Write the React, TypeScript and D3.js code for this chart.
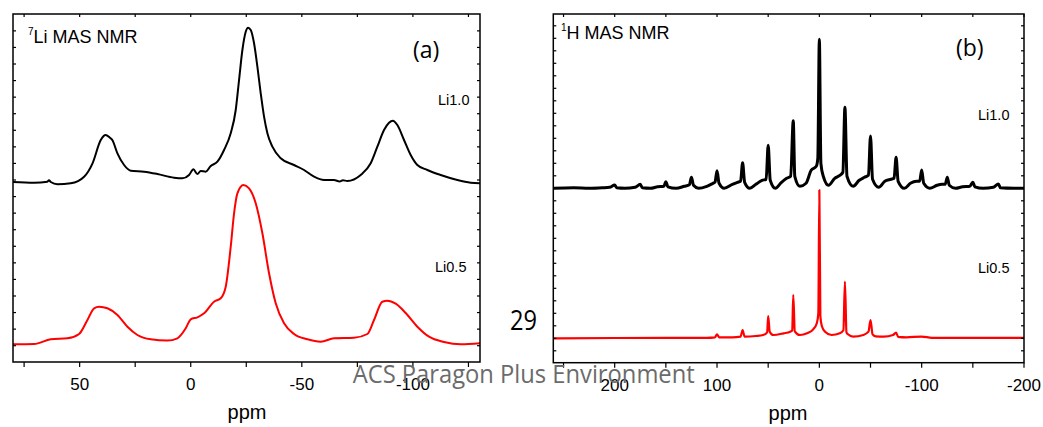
import React from "react";
import * as d3 from "d3";

// ---------- Data (ppm, intensity above own baseline) ----------
const liXTicksMajor = [50, 0, -50, -100];
const liXTicksMinor = [75, 25, -25, -75, -125];
const hXTicksMajor = [200, 100, 0, -100, -200];
const hXTicksMinor = [250, 150, 50, -50, -150];

const li7_Li10: [number, number][] = [
  [80, 0], [70.5, -0.7], [64.5, 0.3], [63.8, 1.8], [63, 0], [60, -2.3], [54, -1.3], [48, 5.3],
  [44.2, 18.7], [40.5, 42], [38.3, 47], [36.5, 44.5], [35.3, 42], [33, 28.7], [30, 17], [27, 11.3],
  [21, 10.3], [15, 8], [7.5, 4.3], [3.75, 3.7], [0.75, 7], [-1.2, 12.7], [-3, 8], [-4.5, 11],
  [-6.75, 10.3], [-9, 16], [-12, 20.3], [-15, 32], [-18, 48.7], [-20.25, 72], [-21.75, 102],
  [-23.25, 132], [-24.75, 150.3], [-25.8, 154.3], [-27, 152], [-28.5, 138.7], [-30, 115.3],
  [-31.5, 88.7], [-33, 65.3], [-34.5, 48.7], [-36.75, 35.3], [-40.5, 23.7], [-46.5, 17],
  [-51, 12], [-55.5, 5.3], [-60, 2], [-64.5, 2], [-67, 0.5], [-68.5, 1.8], [-70.5, 1], [-76.5, 7],
  [-81, 18.7], [-84, 35.3], [-87, 52], [-89.25, 59.3], [-91, 61.3], [-93, 57], [-96, 42],
  [-99, 27], [-102, 17], [-106.5, 12], [-112.5, 7], [-120, 2], [-126, -0.7], [-130.5, -1.3],
];

const li7_Li05: [number, number][] = [
  [80, 0], [70.5, 0.3], [63, 5], [55.5, 6], [50.25, 10.3], [46.5, 24.3], [43.5, 36], [41.25, 37.6],
  [37.5, 36], [33, 29.3], [28.5, 17.6], [24, 9.3], [18, 5], [10.5, 3.7], [6, 6], [2.25, 16],
  [0, 25], [-3, 27], [-6, 31], [-10.5, 42.6], [-13.5, 46], [-15.75, 57.6], [-18, 97.6],
  [-19.5, 131], [-21, 151], [-23.7, 159.3], [-26.25, 156], [-29.25, 141], [-32.25, 111],
  [-35.25, 71], [-38.25, 41], [-42, 21], [-46.5, 10.3], [-52.5, 5], [-58.5, 2.6], [-64.5, 6],
  [-73.5, 6.6], [-79.5, 10.3], [-82.5, 24.3], [-86.25, 42.6], [-88.5, 43.6], [-92.25, 40.6],
  [-96.75, 31.3], [-102, 17.6], [-107.25, 7.6], [-114, 2.3], [-121.5, 0], [-130.5, 1],
];

const h1_Li10: [number, number][] = [
  [260, 0], [240, 0.5], [225, 0], [212, 0.5], [205, 1], [200, 3.3], [198, 0.5], [190, 0],
  [180, 1], [175, 4], [173, 0.5], [165, 0], [158, 1.5], [152, 2], [150, 6.6], [148, 1.5],
  [140, 0], [132, 2], [127, 3.5], [125, 11], [123, 3], [118, 0], [110, 2], [104, 5], [102, 6],
  [100, 17.6], [98, 5], [93, 0], [85, 4], [80, 6], [77, 7], [75, 25.6], [73, 6], [68, 0],
  [62, 4], [56, 8], [52, 9], [50, 43], [48, 8], [43, 0], [37, 6], [32, 10], [28, 12],
  [25.5, 67.6], [24, 12], [19, 2], [13, 5], [8, 18], [3, 22], [1.5, 30], [0, 149], [-1.5, 25],
  [-4, 11.6], [-9, 3], [-15, 10], [-20, 13], [-23, 16], [-25, 81], [-27, 12], [-33, 2],
  [-39, 8], [-44, 11], [-48, 13], [-50, 52.3], [-52, 9], [-58, 1], [-64, 7], [-70, 9],
  [-73, 10], [-75, 31], [-77, 7], [-83, 0], [-89, 5], [-95, 7], [-98, 7], [-100, 18.3],
  [-102, 5], [-108, 0], [-115, 3], [-120, 4], [-123, 4], [-125, 11], [-127, 3], [-133, 0],
  [-140, 1.5], [-147, 2], [-150, 6], [-152, 1.5], [-160, 0], [-170, 1], [-175, 4.3],
  [-177, 0.5], [-190, 0], [-200, 0],
];

const h1_Li05: [number, number][] = [
  [260, 0], [200, 0.3], [150, 0.5], [110, 0.5], [102, 1], [100, 4], [98, 1], [85, 1], [77, 1.6],
  [75, 8.3], [73, 1.6], [62, 2.3], [55, 3.3], [51, 6], [50, 22.3], [48.5, 6.6], [45, 3.3],
  [35, 5], [28.5, 6.6], [26.5, 8], [25.5, 43.3], [24, 7], [19, 3.3], [12, 5], [6, 9],
  [2.5, 15], [1, 25], [0, 148.3], [-1, 22], [-2.5, 12], [-5.6, 6.6], [-12, 3.3], [-20, 5],
  [-23.5, 8], [-25, 56.6], [-26.5, 6], [-28, 4], [-33, 1.6], [-43, 3.3], [-48, 6.6],
  [-50, 18.3], [-52, 4], [-55, 2], [-63, 1.6], [-72, 3.3], [-75, 5.6], [-77, 1.5], [-85, 1],
  [-100, 1.7], [-110, 0.5], [-150, 0.5], [-200, 0.5],
];

const offsetA_Li10 = 162.3;
const offsetB_Li10 = 150;

// ---------- Layout ----------
const W = 1043, H = 427;
const A = { x0: 13, x1: 480, y0: 14, y1: 362 };
const B = { x0: 553.3, x1: 1024, y0: 14, y1: 362.7 };

const xA = d3.scaleLinear().domain([80, -130.2]).range([A.x0, A.x1]);
const yA = d3.scaleLinear().domain([-17.7, 330.3]).range([A.y1, A.y0]);
const xB = d3.scaleLinear().domain([260, -200]).range([B.x0, B.x1]);
const yB = d3.scaleLinear().domain([-24.4, 324.3]).range([B.y1, B.y0]);

const yTicksA = d3.range(0, 20).map((k) => k * 16.57 - 1.4);
const yTicksB = d3.range(-1, 26).map((k) => k * 12.5);

const SANS = "'Liberation Sans', Arial, sans-serif";
const CAL = "'Open Sans', sans-serif";

function Frame({ box, x, y, major, minor, yTicks }: any) {
  const all = [...major, ...minor];
  return (
    <g>
      <rect x={box.x0} y={box.y0} width={box.x1 - box.x0} height={box.y1 - box.y0}
        fill="none" stroke="#000" strokeWidth={1.5} />
      {all.map((t: number) => (
        <g key={"x" + t}>
          <line x1={x(t)} x2={x(t)} y1={box.y1} y2={box.y1 + 5} stroke="#000" strokeWidth={1.2} />
          <line x1={x(t)} x2={x(t)} y1={box.y0} y2={box.y0 + 3} stroke="#000" strokeWidth={1.2} />
        </g>
      ))}
      {major.map((t: number) => (
        <text key={"l" + t} x={x(t)} y={box.y1 + 28} textAnchor="middle"
          fontFamily={SANS} fontSize={17} fill="#000">{t}</text>
      ))}
      {yTicks.map((t: number) => (
        <g key={"y" + t}>
          <line x1={box.x0} x2={box.x0 + 3} y1={y(t)} y2={y(t)} stroke="#000" strokeWidth={1.2} />
          <line x1={box.x1} x2={box.x1 - 3} y1={y(t)} y2={y(t)} stroke="#000" strokeWidth={1.2} />
        </g>
      ))}
    </g>
  );
}

export default function App() {
  const lineA = (off: number) =>
    d3.line<[number, number]>().x((d) => xA(d[0])).y((d) => yA(d[1] + off)).curve(d3.curveMonotoneX);
  const lineB = (off: number) =>
    d3.line<[number, number]>().x((d) => xB(d[0])).y((d) => yB(d[1] + off)).curve(d3.curveMonotoneX);

  return (
    <svg width={W} height={H} style={{ position: "absolute", left: 0, top: 0, background: "#fff" }}>
      <rect x={0} y={0} width={W} height={H} fill="#fff" />
      <defs>
        <clipPath id="clipA"><rect x={A.x0} y={A.y0} width={A.x1 - A.x0} height={A.y1 - A.y0} /></clipPath>
        <clipPath id="clipB"><rect x={B.x0} y={B.y0} width={B.x1 - B.x0} height={B.y1 - B.y0} /></clipPath>
      </defs>

      {/* Panel (a) */}
      <g clipPath="url(#clipA)">
        <path d={lineA(offsetA_Li10)(li7_Li10) || ""} fill="none" stroke="#000" strokeWidth={2} strokeLinejoin="round" />
        <path d={lineA(0)(li7_Li05) || ""} fill="none" stroke="#ff0000" strokeWidth={2} strokeLinejoin="round" />
      </g>
      <Frame box={A} x={xA} y={yA} major={liXTicksMajor} minor={liXTicksMinor} yTicks={yTicksA} />
      <text x={28} y={43} fontFamily={SANS} fontSize={18} fill="#000">
        <tspan fontSize={10} dy={-8}>7</tspan>
        <tspan dy={8}>Li MAS NMR</tspan>
      </text>
      <text x={413} y={58} fontFamily={CAL} fontSize={23} fill="#000">(a)</text>
      <text x={438} y={105} fontFamily={SANS} fontSize={14.5} fill="#000">Li1.0</text>
      <text x={435} y={272} fontFamily={SANS} fontSize={14.5} fill="#000">Li0.5</text>
      <text x={247} y={419} textAnchor="middle" fontFamily={SANS} fontSize={20} fill="#000">ppm</text>

      {/* Panel (b) */}
      <g clipPath="url(#clipB)">
        <path d={lineB(offsetB_Li10)(h1_Li10) || ""} fill="none" stroke="#000" strokeWidth={3} strokeLinejoin="round" />
        <path d={lineB(0)(h1_Li05) || ""} fill="none" stroke="#ff0000" strokeWidth={2.2} strokeLinejoin="round" />
      </g>
      <Frame box={B} x={xB} y={yB} major={hXTicksMajor} minor={hXTicksMinor} yTicks={yTicksB} />
      <text x={561} y={38.5} fontFamily={SANS} fontSize={18} fill="#000">
        <tspan fontSize={10} dy={-8}>1</tspan>
        <tspan dy={8}>H MAS NMR</tspan>
      </text>
      <text x={956} y={56} fontFamily={CAL} fontSize={23} fill="#000">(b)</text>
      <text x={978} y={120} fontFamily={SANS} fontSize={14.5} fill="#000">Li1.0</text>
      <text x={978} y={273} fontFamily={SANS} fontSize={14.5} fill="#000">Li0.5</text>
      <text x={788} y={420} textAnchor="middle" fontFamily={SANS} fontSize={20} fill="#000">ppm</text>

      {/* page overlays */}
      <text x={510} y={330} fontFamily={CAL} fontSize={27} textLength={27} lengthAdjust="spacingAndGlyphs" fill="#000">29</text>
      <text x={352.7} y={383} fontFamily={CAL} fontSize={25} textLength={342} lengthAdjust="spacingAndGlyphs" fill="#6b6b6b">ACS Paragon Plus Environment</text>
    </svg>
  );
}
